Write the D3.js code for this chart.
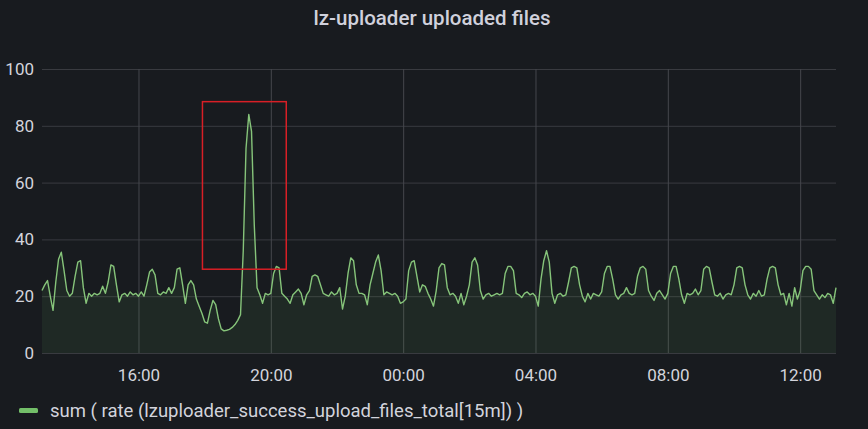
<!DOCTYPE html>
<html>
<head>
<meta charset="utf-8">
<script src="https://cdn.jsdelivr.net/npm/d3@7"></script>
<style>
  html, body { margin: 0; padding: 0; background: #181b1f; }
  svg { display: block; }
  text { font-family: Roboto, "Noto Sans", sans-serif; }
</style>
</head>
<body>
<svg id="chart" width="868" height="429"></svg>
<script>
// ---------- data ----------
const chartTitle = "lz-uploader uploaded files";
const seriesName = "sum ( rate (lzuploader_success_upload_files_total[15m]) )";
const seriesStart = "2021-06-10T13:05:00";
const stepMinutes = 5;
const seriesValues = [
  22, 24, 25.5, 20, 15,
  25, 33, 35.5, 29, 22,
  20, 21, 27, 32, 32.5,
  23, 17.5, 21, 20, 21,
  20.5, 21, 23.5, 21, 25,
  31, 30.5, 24, 18, 20.5,
  21, 20, 21.5, 20.5, 21,
  20, 21.5, 20, 24, 28.5,
  29.5, 27.5, 21, 20.5, 21.5,
  21, 23, 21, 23, 29.5,
  30, 24, 17.5, 24, 25.5,
  24, 19, 16.5, 14, 11,
  10.5, 15, 18.5, 17, 12,
  8.5, 7.8, 8, 8.3, 9,
  10, 11.5, 13.5, 36, 72,
  84, 78, 45, 23, 20.5,
  17.5, 21, 20.5, 21, 28,
  30.5, 30, 21, 20, 19,
  17.5, 20.5, 21.5, 22.5, 21,
  17, 20.5, 22, 27, 27.5,
  27, 24, 21, 20.5, 20,
  21.5, 20.5, 21, 23, 15.5,
  20, 28, 33.5, 32.5, 24,
  21, 21, 20.5, 17, 24,
  28, 32, 34.5, 29, 20.5,
  21.5, 21, 20.5, 21, 20,
  17.5, 18, 19, 29, 32,
  32.5, 27, 21.5, 24, 23.5,
  21, 19, 16.5, 22, 30,
  31.5, 31, 23, 20.5, 21,
  20, 17.5, 21, 17, 20,
  24, 32, 33.5, 31, 22,
  19, 20.5, 21, 20, 20.5,
  21, 20.5, 21, 28, 30.5,
  30.5, 29, 21, 20.5, 19.5,
  21, 21.5, 20.5, 21, 20,
  16.5, 26, 32.5, 36, 32,
  21, 17.5, 20.5, 21, 20,
  20.5, 25, 30, 30.5, 30,
  24, 20, 18, 21, 19,
  21, 20.5, 20, 21.5, 28,
  30.5, 30.5, 26, 20.5, 19,
  20.5, 21, 23, 21, 20.5,
  21, 27, 30, 30.5, 29.5,
  22, 20, 18.5, 21, 22,
  20.5, 19, 21, 28, 30.5,
  30.5, 26, 20.5, 17.5, 21,
  20.5, 21, 22.5, 20.5, 22,
  29.5, 30.5, 30, 25, 20.5,
  20, 21, 19, 20.5, 21,
  20.5, 24, 30, 30.5, 30,
  24, 20.5, 19, 21, 20,
  22, 20, 20.5, 26, 30,
  30.5, 30, 24, 20.5, 21,
  17, 21, 16.5, 23, 19,
  22, 29, 30.5, 30.5, 29.5,
  22, 20.5, 19, 20.5, 19.5,
  21, 20.5, 17.5, 23
];
const yTicks = [0, 20, 40, 60, 80, 100];
const xTickTimes = ["2021-06-10T16:00:00", "2021-06-10T20:00:00", "2021-06-11T00:00:00",
                    "2021-06-11T04:00:00", "2021-06-11T08:00:00", "2021-06-11T12:00:00"];
const xTickLabels = ["16:00", "20:00", "00:00", "04:00", "08:00", "12:00"];
// highlighted region (annotation box)
const highlightTimes = ["2021-06-10T17:56:00", "2021-06-10T20:28:00"];
const highlightValues = [29.5, 88.5];

// ---------- build ----------
const parse = d3.isoParse;
const t0 = parse(seriesStart);
const data = seriesValues.map((v, i) => ({ t: new Date(t0.getTime() + i * stepMinutes * 60000), v }));

const svg = d3.select("#chart");
const W = 868, H = 429;
const m = { left: 42, right: 868 - 836, top: 69, bottom: 429 - 353 };

const x = d3.scaleTime()
  .domain(d3.extent(data, d => d.t))
  .range([m.left, W - m.right]);
const y = d3.scaleLinear().domain([0, 100]).range([H - m.bottom, m.top]);

svg.append("rect").attr("width", W).attr("height", H).attr("fill", "#181b1f");

// title
svg.append("text")
  .attr("x", 432).attr("y", 18).attr("dy", "0.35em")
  .attr("text-anchor", "middle")
  .attr("fill", "#d0d1dc")
  .attr("font-size", 20.5).attr("font-weight", 500)
  .text(chartTitle);

// y axis + horizontal grid
const yAxis = svg.append("g")
  .attr("transform", `translate(${m.left},0)`)
  .call(d3.axisLeft(y).tickValues(yTicks).tickSizeInner(-(W - m.right - m.left)).tickSizeOuter(0).tickPadding(8));
yAxis.select(".domain").remove();
yAxis.selectAll(".tick line").attr("stroke", "#393b40").attr("stroke-width", 1);
yAxis.selectAll(".tick text").attr("fill", "#d3d4dc").attr("font-size", 17)
  .attr("font-family", "Roboto, sans-serif");

// x axis + vertical grid
const xTickDates = xTickTimes.map(parse);
const xAxis = svg.append("g")
  .attr("transform", `translate(0,${H - m.bottom})`)
  .call(d3.axisBottom(x).tickValues(xTickDates)
    .tickFormat((d, i) => xTickLabels[i])
    .tickSizeInner(-(H - m.bottom - m.top)).tickSizeOuter(0).tickPadding(16));
xAxis.select(".domain").remove();
xAxis.selectAll(".tick line").attr("stroke", "#45474c").attr("stroke-width", 1);
xAxis.selectAll(".tick text").attr("fill", "#d3d4dc").attr("font-size", 17)
  .attr("font-family", "Roboto, sans-serif");

// area + line
svg.append("path").datum(data)
  .attr("fill", "#73BF69").attr("fill-opacity", 0.09)
  .attr("d", d3.area().x(d => x(d.t)).y0(y(0)).y1(d => y(d.v)));
svg.append("path").datum(data)
  .attr("fill", "none").attr("stroke", "#86c47a").attr("stroke-width", 1.4)
  .attr("stroke-linejoin", "round")
  .attr("d", d3.line().x(d => x(d.t)).y(d => y(d.v)));

// annotation rectangle
const hx0 = x(parse(highlightTimes[0])), hx1 = x(parse(highlightTimes[1]));
const hy0 = y(highlightValues[1]), hy1 = y(highlightValues[0]);
svg.append("rect")
  .attr("x", hx0).attr("y", hy0).attr("width", hx1 - hx0).attr("height", hy1 - hy0)
  .attr("fill", "none").attr("stroke", "#d81f26").attr("stroke-width", 1.5);

// legend
svg.append("rect").attr("x", 19).attr("y", 408).attr("width", 19).attr("height", 5)
  .attr("rx", 1.5).attr("fill", "#73BF69");
svg.append("text")
  .attr("x", 50).attr("y", 411).attr("dy", "0.35em")
  .attr("fill", "#d3d4dc").attr("font-size", 18.5)
  .text(seriesName);
</script>
</body>
</html>
